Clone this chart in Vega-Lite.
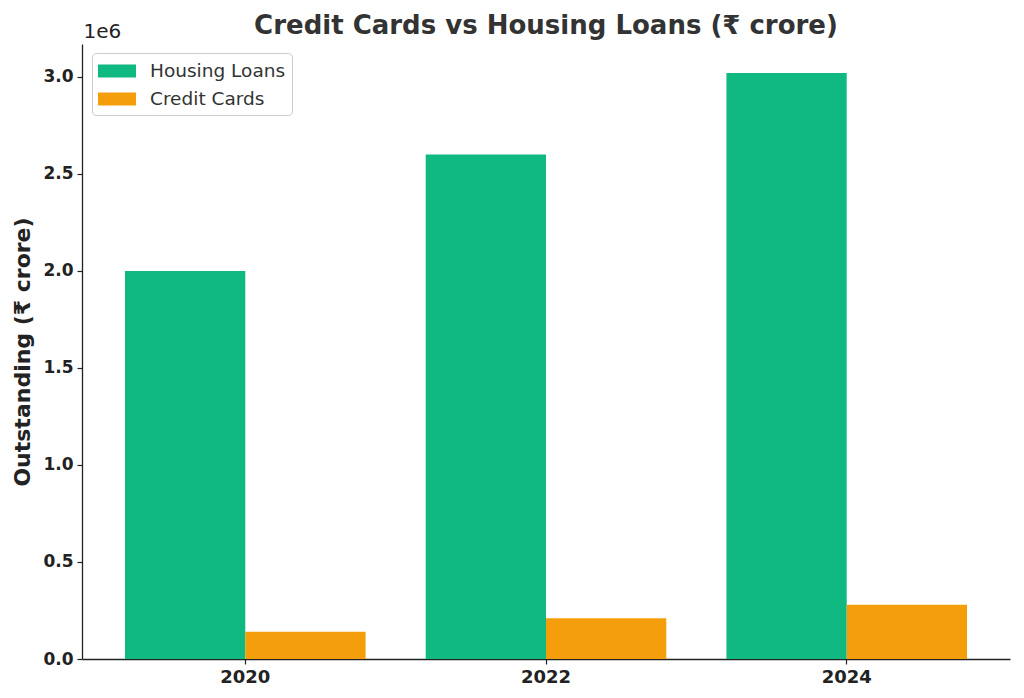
{
  "$schema": "https://vega.github.io/schema/vega-lite/v6.json",
  "width": 928,
  "height": 615,
  "autosize": {"type": "none"},
  "padding": {"left": 82, "top": 44, "right": 14, "bottom": 39},
  "background": "white",
  "config": {
    "font": "DejaVu Sans",
    "view": {"stroke": null}
  },
  "title": {
    "text": "Credit Cards vs Housing Loans (₹ crore)",
    "fontSize": 26,
    "fontWeight": "bold",
    "color": "#333333",
    "anchor": "middle",
    "baseline": "alphabetic",
    "offset": -41
  },
  "data": {
    "values": [
      {"year": "2020", "type": "Housing Loans", "value": 2000000},
      {"year": "2020", "type": "Credit Cards", "value": 140000},
      {"year": "2022", "type": "Housing Loans", "value": 2600000},
      {"year": "2022", "type": "Credit Cards", "value": 210000},
      {"year": "2024", "type": "Housing Loans", "value": 3020000},
      {"year": "2024", "type": "Credit Cards", "value": 280000}
    ]
  },
  "resolve": {"axis": {"x": "independent"}},
  "layer": [
    {
      "mark": {"type": "bar"},
      "encoding": {
        "x": {
          "field": "year",
          "type": "nominal",
          "scale": {"paddingInner": 0.2, "paddingOuter": 0.143},
          "axis": {
            "title": null,
            "labelAngle": 0,
            "labelFontSize": 18,
            "labelFontWeight": "bold",
            "labelColor": "#222222",
            "labelPadding": 4,
            "tickSize": 5,
            "tickColor": "#222222",
            "tickWidth": 1.2,
            "domainColor": "#222222",
            "domainWidth": 1.3
          }
        },
        "xOffset": {
          "field": "type",
          "type": "nominal",
          "sort": ["Housing Loans", "Credit Cards"],
          "scale": {"paddingInner": 0, "paddingOuter": 0}
        },
        "y": {
          "field": "value",
          "type": "quantitative",
          "scale": {"domain": [0, 3170000], "nice": false},
          "axis": {
            "title": "Outstanding (₹ crore)",
            "titleFontSize": 22,
            "titleFontWeight": "bold",
            "titleColor": "#222222",
            "titlePadding": 8,
            "values": [0, 500000, 1000000, 1500000, 2000000, 2500000, 3000000],
            "labelExpr": "format(datum.value / 1000000, '.1f')",
            "labelFontSize": 17,
            "labelFontWeight": "bold",
            "labelColor": "#222222",
            "labelPadding": 4,
            "tickSize": 5,
            "tickColor": "#222222",
            "tickWidth": 1.2,
            "domainColor": "#222222",
            "domainWidth": 1.3,
            "grid": false
          }
        },
        "color": {
          "field": "type",
          "type": "nominal",
          "sort": ["Housing Loans", "Credit Cards"],
          "scale": {"domain": ["Housing Loans", "Credit Cards"], "range": ["#10b981", "#f59e0b"]},
          "legend": {
            "title": null,
            "orient": "none",
            "legendX": 10,
            "legendY": 9,
            "fillColor": "white",
            "strokeColor": "#cccccc",
            "cornerRadius": 4,
            "padding": 6,
            "labelFontSize": 18.5,
            "labelColor": "#333333",
            "labelOffset": 21,
            "rowPadding": 6,
            "symbolOffset": 7,
            "symbolType": "M-1.6,-0.55H1.6V0.55H-1.6Z",
            "symbolSize": 564,
            "symbolStrokeWidth": 0,
            "symbolOpacity": 1
          }
        }
      }
    },
    {
      "mark": {"type": "bar", "opacity": 0},
      "encoding": {
        "x": {
          "field": "year",
          "type": "nominal",
          "axis": {
            "orient": "top",
            "title": "1e6",
            "titleFontSize": 20,
            "titleFontWeight": "normal",
            "titleColor": "#222222",
            "titleAngle": 0,
            "titleAnchor": "start",
            "titleAlign": "left",
            "titleBaseline": "alphabetic",
            "titleX": 1,
            "titleY": -7,
            "labels": false,
            "ticks": false,
            "domain": false
          }
        },
        "y": {"field": "value", "type": "quantitative"}
      }
    }
  ]
}
